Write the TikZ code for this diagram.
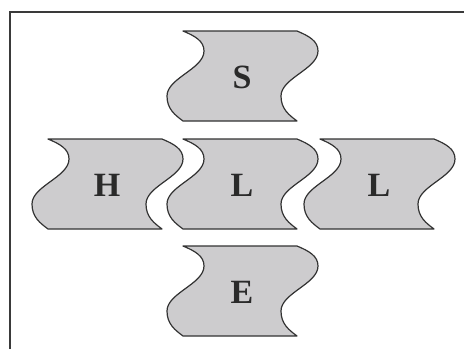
\documentclass[tikz,border=0pt]{standalone}
\usepackage{fontspec}
\setmainfont{Liberation Serif}
\definecolor{tilefill}{HTML}{CDCCCE}
\definecolor{tileline}{HTML}{333333}
\definecolor{framecol}{HTML}{3A3A3A}
\definecolor{letter}{HTML}{2A2A2A}
\tikzset{
  x=1pt, y=-1pt,
  tileshape/.style={fill=tilefill, draw=tileline, line width=1.2pt, line join=round},
  tiletext/.style={font=\bfseries\fontsize{34}{34}\selectfont, text=letter, inner sep=0pt},
  framecolline/.style={draw=framecol, line width=2pt},
  pics/tile/.style={code={
    \path[tileshape] (0,0) -- (114,0)
      .. controls (126,5) and (135,10) .. (135,20)
      .. controls (135,38) and (98,47) .. (98,65)
      .. controls (98,78) and (106,84) .. (114,90)
      -- (0,90)
      .. controls (-8,84) and (-16,78) .. (-16,65)
      .. controls (-16,47) and (21,38) .. (21,20)
      .. controls (21,10) and (12,5) .. (0,0) -- cycle;
    \node[tiletext] (-label) at (59,46) {#1};
  }}
}
\begin{document}
\begin{tikzpicture}
\useasboundingbox (0,0) rectangle (464,349);
\fill[white] (0,0) rectangle (464,349);
\coordinate (fa) at (10,349);
\coordinate (fb) at (10,12);
\coordinate (fc) at (464,12);
\draw[framecolline] (fa) -- (fb) -- (fc);
\pic (s) at (183,31) {tile=S};
\pic (h) at (48,139) {tile=H};
\pic (l1) at (183,139) {tile=L};
\pic (l2) at (320,139) {tile=L};
\pic (e) at (183,246) {tile=E};
\end{tikzpicture}
\end{document}
